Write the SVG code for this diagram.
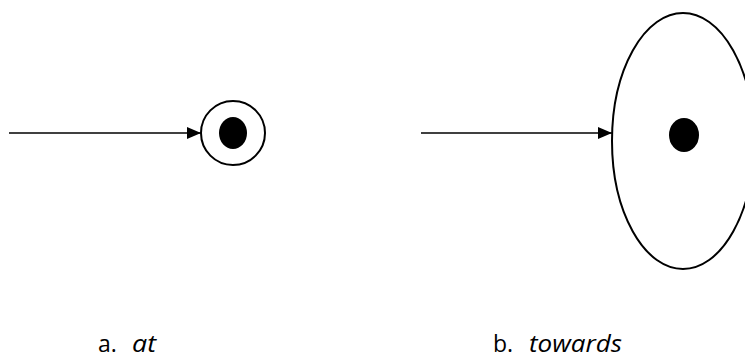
<svg xmlns="http://www.w3.org/2000/svg" width="745" height="359" viewBox="0 0 745 359">
<defs>
<marker id="ah" markerWidth="14" markerHeight="12" refX="14" refY="6" orient="auto" markerUnits="userSpaceOnUse">
<path d="M0,0 L14,6 L0,12 Z" fill="#000"/>
</marker>
<style>
.ln{stroke:#000;stroke-width:1.5;fill:none}
.ring{stroke:#000;stroke-width:2;fill:#fff}
.lbl{font-family:"Open Sans","Liberation Sans",sans-serif;font-size:23px;fill:#000}
.it{font-style:italic}
</style>
</defs>
<rect width="745" height="359" fill="#fff"/>
<g id="connectors">
<line class="ln" x1="9" y1="133" x2="201" y2="133" marker-end="url(#ah)"/>
<line class="ln" x1="421" y1="133" x2="612" y2="133" marker-end="url(#ah)"/>
</g>
<g id="node-at">
<circle class="ring" cx="233" cy="133" r="32"/>
<ellipse cx="233" cy="133" rx="14" ry="16" fill="#000"/>
</g>
<g id="node-towards">
<ellipse class="ring" cx="683" cy="141" rx="71" ry="128"/>
<ellipse cx="684" cy="135" rx="15" ry="17" fill="#000"/>
</g>
<g id="labels">
<text class="lbl" x="98" y="352">a.<tspan class="it" x="132" textLength="24" lengthAdjust="spacingAndGlyphs">at</tspan></text>
<text class="lbl" x="493" y="352">b.<tspan class="it" x="529" textLength="93" lengthAdjust="spacingAndGlyphs">towards</tspan></text>
</g>
</svg>
